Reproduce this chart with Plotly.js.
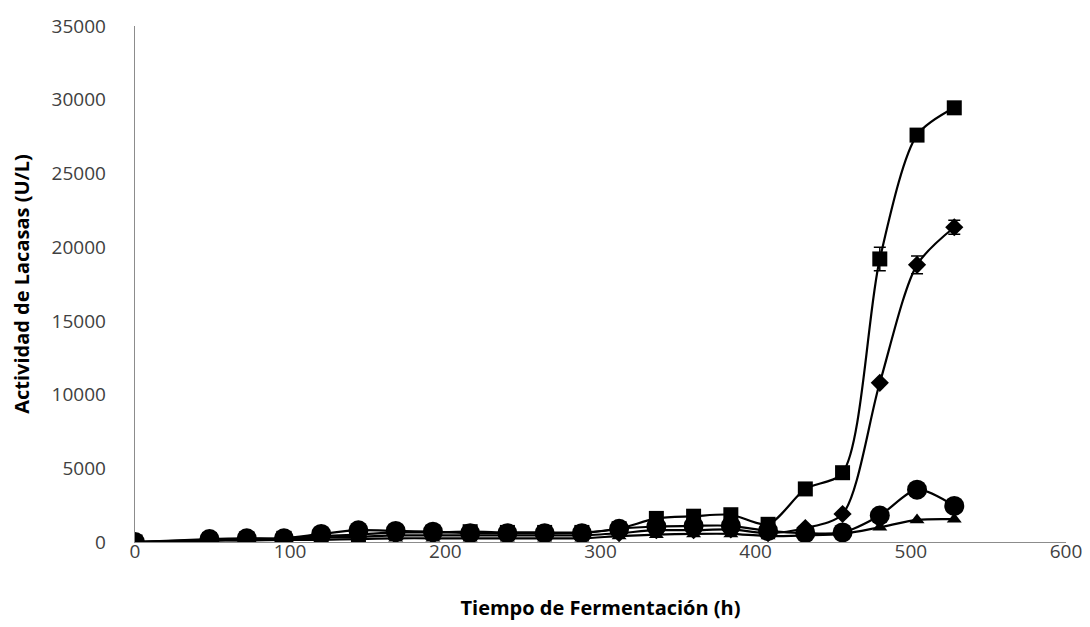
<!DOCTYPE html>
<html>
<head>
<meta charset="utf-8">
<script src="https://cdn.plot.ly/plotly-3.0.1.min.js"></script>
<style>html,body{margin:0;padding:0;background:#fff;}#chart{width:1090px;height:627px;}</style>
</head>
<body>
<div id="chart"></div>
<script>
var tiempo = [0,48,72,96,120,144,168,192,216,240,264,288,312,336,360,384,408,432,456,480,504,528];
var cuadrados = [0,150,200,250,400,500,650,650,700,650,650,650,900,1600,1750,1850,1200,3600,4700,19200,27600,29450];
var cuadradosErr = [0,0,0,0,0,0,0,0,0,0,0,0,0,0,0,0,0,0,0,800,300,300];
var rombos = [0,100,150,200,300,350,450,450,450,450,450,450,600,800,800,850,600,950,1900,10800,18800,21350];
var rombosErr = [0,0,0,0,0,0,0,0,0,0,0,0,0,0,0,0,0,0,0,0,600,470];
var triangulos = [0,100,100,150,150,200,250,250,250,250,250,250,400,500,550,550,400,450,550,1000,1500,1550];
var circulos = [0,200,250,250,550,800,750,700,600,600,600,600,900,1050,1100,1100,750,600,650,1800,3550,2450];

function serie(y, err, symbol, size) {
  var t = {
    x: tiempo, y: y, type: 'scatter', mode: 'lines+markers',
    line: {color: '#000', width: 2.2, shape: 'spline', smoothing: 0.8},
    marker: {color: '#000', symbol: symbol, size: size},
    showlegend: false, hoverinfo: 'x+y'
  };
  if (err) {
    t.error_y = {type: 'data', array: err, visible: true, color: '#000', thickness: 1.5, width: 6};
  }
  return t;
}

var data = [
  serie(triangulos, null, 'triangle-up', 13),
  serie(rombos, rombosErr, 'diamond', 14),
  serie(cuadrados, cuadradosErr, 'square', 15),
  serie(circulos, null, 'circle', 20)
];

var layout = {
  width: 1090, height: 627,
  margin: {l: 135, r: 24, t: 26, b: 85},
  paper_bgcolor: '#fff', plot_bgcolor: '#fff',
  font: {family: 'Open Sans, sans-serif', color: '#404040', size: 19},
  xaxis: {
    range: [0, 600], dtick: 100, tick0: 0, tickformat: 'd',
    showgrid: false, zeroline: false,
    showline: true, linecolor: '#8c8c8c', linewidth: 1.3,
    ticks: '', ticklen: 0, ticklabelstandoff: -8,
    tickfont: {size: 19, color: '#404040'},
    title: {text: 'Tiempo de Fermentación (h)', font: {size: 20, color: '#000', family: 'Open Sans, sans-serif', weight: 'bold'}, standoff: 38}
  },
  yaxis: {
    range: [0, 35000], dtick: 5000, tick0: 0, tickformat: 'd',
    showgrid: false, zeroline: false,
    showline: true, linecolor: '#8c8c8c', linewidth: 1.3,
    ticks: '', ticklen: 0, ticklabelstandoff: 24,
    tickfont: {size: 19, color: '#404040'},
    title: {text: 'Actividad de Lacasas (U/L)', font: {size: 20, color: '#000', family: 'Open Sans, sans-serif', weight: 'bold'}, standoff: 16}
  }
};

Plotly.newPlot('chart', data, layout, {displayModeBar: false, staticPlot: true});
</script>
</body>
</html>
